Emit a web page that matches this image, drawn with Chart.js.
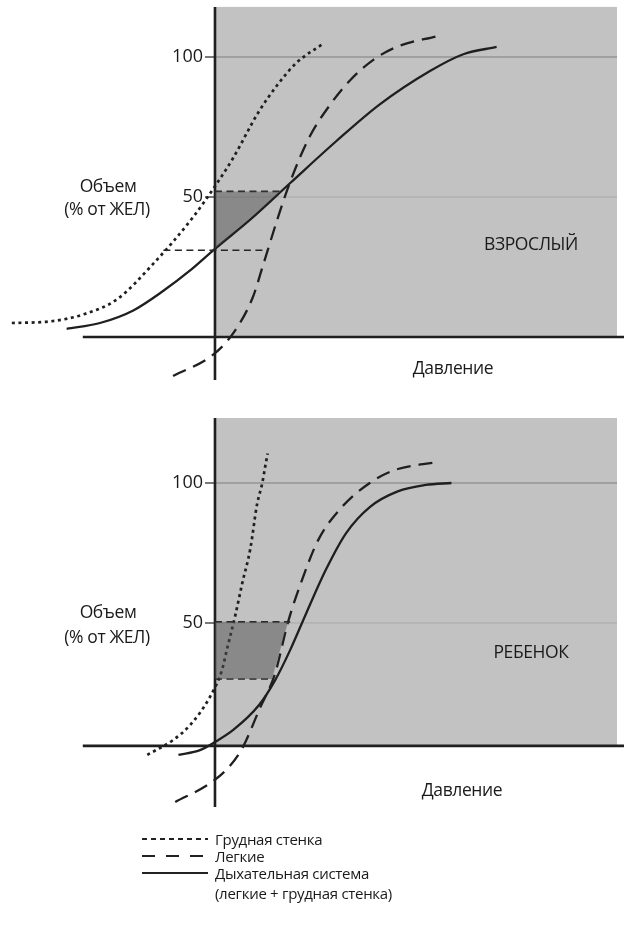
<!DOCTYPE html>
<html lang="ru">
<head>
<meta charset="utf-8">
<script src="https://cdn.jsdelivr.net/npm/chart.js@4.4.1/dist/chart.umd.min.js"></script>
<style>
  html, body { margin: 0; padding: 0; background: #fff; }
  body { width: 624px; height: 927px; position: relative; overflow: hidden; font-family: "Open Sans", "Noto Sans", sans-serif; color: #1a1a1a; }
  canvas { position: absolute; left: 0; }
  #adultChart { top: 0; }
  #childChart { top: 400px; }
  .lbl { position: absolute; font-size: 17.5px; line-height: 1; white-space: nowrap; transform: translate(-50%, -50%); letter-spacing: -0.4px; }
  .legend { position: absolute; left: 142px; top: 830px; font-size: 15px; line-height: 18px; letter-spacing: -0.3px; }
  .legend .row { display: flex; align-items: center; height: 17px; }
  .legend svg { width: 66px; height: 10px; margin-right: 7px; flex: none; }
  .legend .sub { padding-left: 73px; margin-top: 3px; }
</style>
</head>
<body>
<canvas id="adultChart" width="624" height="400"></canvas>
<canvas id="childChart" width="624" height="430"></canvas>

<div class="lbl" style="left:108px; top:186px;">Объем</div>
<div class="lbl" style="left:107px; top:209px;">(% от ЖЕЛ)</div>
<div class="lbl" style="left:531px; top:244px;">ВЗРОСЛЫЙ</div>
<div class="lbl" style="left:453px; top:368px;">Давление</div>

<div class="lbl" style="left:108px; top:612px;">Объем</div>
<div class="lbl" style="left:107px; top:637px;">(% от ЖЕЛ)</div>
<div class="lbl" style="left:531px; top:652px;">РЕБЕНОК</div>
<div class="lbl" style="left:462px; top:790px;">Давление</div>

<div class="legend">
  <div class="row"><svg><line x1="0" y1="5" x2="66" y2="5" stroke="#222" stroke-width="2" stroke-dasharray="5 4"/></svg>Грудная стенка</div>
  <div class="row"><svg><line x1="0" y1="5" x2="66" y2="5" stroke="#222" stroke-width="2" stroke-dasharray="13 11"/></svg>Легкие</div>
  <div class="row"><svg><line x1="0" y1="5" x2="66" y2="5" stroke="#222" stroke-width="2"/></svg>Дыхательная система</div>
  <div class="sub">(легкие + грудная стенка)</div>
</div>

<script>
// шкала объема (% от ЖЕЛ)
const volTicks = [50, 100];

// ВЗРОСЛЫЙ
const adultChestP = [-18.9, -15.3, -12.3, -9.1, -5.9, -2.0, 0.2, 1.7, 4.0, 5.8, 7.6, 10.0];
const adultChestV = [5.0, 5.6, 8.0, 13.5, 25.5, 43.0, 55.0, 64.0, 80.0, 90.0, 98.0, 104.6];
const adultLungP = [-3.9, -0.2, 1.7, 3.5, 4.5, 5.8, 7.0, 8.8, 10.7, 12.6, 14.7, 16.9, 20.7];
const adultLungV = [-13.9, -6.4, 1.4, 14.0, 26.0, 42.0, 55.5, 71.5, 82.9, 91.8, 98.9, 103.6, 107.5];
const adultSysP = [-13.8, -10.7, -7.6, -4.8, -2.4, 0, 3.3, 7.0, 11.3, 15.3, 20.0, 23.1, 26.2];
const adultSysV = [2.9, 5.0, 9.5, 16.5, 23.5, 31.5, 42.0, 55.0, 70.0, 83.0, 95.0, 101.0, 103.6];
const adultGuideUpP = [0, 6.1];
const adultGuideUpV = [52, 52];
const adultGuideLowP = [-4.8, 5.0];
const adultGuideLowV = [31, 31];
const adultShadeP = [0, 0, 6.1];
const adultShadeV = [31.5, 52, 52];

// РЕБЕНОК
const childChestP = [-6.3, -3.9, -2.3, -0.47, 0.65, 1.1, 1.9, 2.5, 3.3, 3.9, 4.4, 4.7, 4.9];
const childChestV = [2.9, 8.2, 13.6, 23.6, 33.2, 40.4, 52.9, 63.6, 76.8, 92.1, 100, 106.5, 110.5];
const childLungP = [-3.7, -0.4, 1.3, 2.6, 4.1, 5.6, 6.8, 8.1, 9.6, 11.8, 14.4, 16.7, 20.7];
const childLungV = [-13.9, -7.1, -1.4, 5.7, 18.9, 32.1, 50.4, 65.4, 79.6, 91.4, 100, 104.6, 107.5];
const childSysP = [-3.4, -1.4, 0, 1.7, 4.1, 5.6, 7.0, 8.5, 10.3, 12.2, 14.4, 17.0, 19.6, 22.0];
const childSysV = [2.9, 4.6, 7.5, 11.8, 20.7, 29.6, 40.4, 53.6, 68.9, 82.1, 91.4, 97.0, 99.3, 100];
const childGuideUpP = [0, 7.0];
const childGuideUpV = [50.4, 50.4];
const childGuideLowP = [0, 5.0];
const childGuideLowV = [30, 30];
const childShadeP = [0, 0, 6.8, 5.3];
const childShadeV = [30, 50.4, 50.4, 30];

function pts(px, vy) {
  return px.map((p, i) => ({ x: p, y: vy[i] }));
}

const ink = "#1f1f1f";

const paperPlugin = {
  id: "paper",
  beforeDatasetsDraw(chart, args, opts) {
    const { ctx } = chart;
    const x = chart.scales.x;
    const y = chart.scales.y;
    const x0 = x.getPixelForValue(0);
    const xr = x.getPixelForValue(opts.grayRight);
    const yt = y.getPixelForValue(opts.grayTop);
    const yb = y.getPixelForValue(opts.axisVol);

    ctx.save();
    ctx.fillStyle = "#c2c2c2";
    ctx.fillRect(x0, yt, xr - x0, yb - yt);

    // линии уровней 50 и 100
    volTicks.forEach((v) => {
      const py = y.getPixelForValue(v);
      ctx.strokeStyle = v === 100 ? "#959595" : "#a8a8a8";
      ctx.lineWidth = v === 100 ? 1.6 : 1;
      ctx.beginPath();
      ctx.moveTo(x0, py);
      ctx.lineTo(xr, py);
      ctx.stroke();
    });

    // оси
    ctx.strokeStyle = ink;
    ctx.lineWidth = 2.6;
    ctx.beginPath();
    ctx.moveTo(x0, y.getPixelForValue(opts.yAxisTop));
    ctx.lineTo(x0, y.getPixelForValue(opts.yAxisBottom));
    const ya = y.getPixelForValue(opts.axisVol);
    ctx.moveTo(x.getPixelForValue(opts.xAxisLeft), ya);
    ctx.lineTo(chart.width, ya);
    ctx.stroke();

    // деления и подписи
    ctx.lineWidth = 1.2;
    ctx.fillStyle = "#1a1a1a";
    ctx.font = "18px 'Open Sans', 'Noto Sans', sans-serif";
    ctx.textAlign = "right";
    ctx.textBaseline = "middle";
    volTicks.forEach((v) => {
      const py = y.getPixelForValue(v);
      ctx.beginPath();
      ctx.moveTo(x0 - 10, py);
      ctx.lineTo(x0, py);
      ctx.stroke();
      ctx.fillText(String(v), x0 - 12, py);
    });
    ctx.restore();
  },
};

function curve(data, dash, width) {
  return {
    data: data,
    borderColor: ink,
    borderWidth: width,
    borderDash: dash,
    borderCapStyle: "butt",
    pointRadius: 0,
    cubicInterpolationMode: "monotone",
    fill: false,
  };
}

function guide(data) {
  return {
    data: data,
    borderColor: "#262626",
    borderWidth: 1.6,
    borderDash: [7, 4.5],
    pointRadius: 0,
    tension: 0,
    fill: false,
  };
}

function shade(data) {
  return {
    data: data,
    borderWidth: 0,
    borderColor: "rgba(0,0,0,0)",
    backgroundColor: "rgba(80,80,80,0.5)",
    pointRadius: 0,
    tension: 0,
    fill: "shape",
  };
}

function makeChart(id, sets, yMin, yMax, paper) {
  return new Chart(document.getElementById(id), {
    type: "line",
    data: {
      datasets: [
        shade(sets.shade),
        guide(sets.guideUp),
        guide(sets.guideLow),
        curve(sets.sys, [], 2.3),
        curve(sets.lung, [14, 8], 2.3),
        curve(sets.chest, [3, 3.6], 2.7),
      ],
    },
    options: {
      responsive: false,
      animation: false,
      layout: { padding: 0 },
      plugins: {
        legend: { display: false },
        tooltip: { enabled: false },
        paper: paper,
      },
      scales: {
        x: { type: "linear", min: -20, max: 38.05, display: false },
        y: { type: "linear", min: yMin, max: yMax, display: false },
      },
    },
    plugins: [paperPlugin],
  });
}

makeChart(
  "adultChart",
  {
    chest: pts(adultChestP, adultChestV),
    lung: pts(adultLungP, adultLungV),
    sys: pts(adultSysP, adultSysV),
    guideUp: pts(adultGuideUpP, adultGuideUpV),
    guideLow: pts(adultGuideLowP, adultGuideLowV),
    shade: pts(adultShadeP, adultShadeV),
  },
  -22.5,
  120.36,
  { grayRight: 37.4, grayTop: 117.9, axisVol: 0, yAxisTop: 117.9, yAxisBottom: -15.4, xAxisLeft: -12.3 }
);

makeChart(
  "childChart",
  {
    chest: pts(childChestP, childChestV),
    lung: pts(childLungP, childLungV),
    sys: pts(childSysP, childSysV),
    guideUp: pts(childGuideUpP, childGuideUpV),
    guideLow: pts(childGuideLowP, childGuideLowV),
    shade: pts(childShadeP, childShadeV),
  },
  -23.93,
  129.64,
  { grayRight: 37.4, grayTop: 123.2, axisVol: 6.1, yAxisTop: 123.2, yAxisBottom: -15.7, xAxisLeft: -12.3 }
);
</script>
</body>
</html>
